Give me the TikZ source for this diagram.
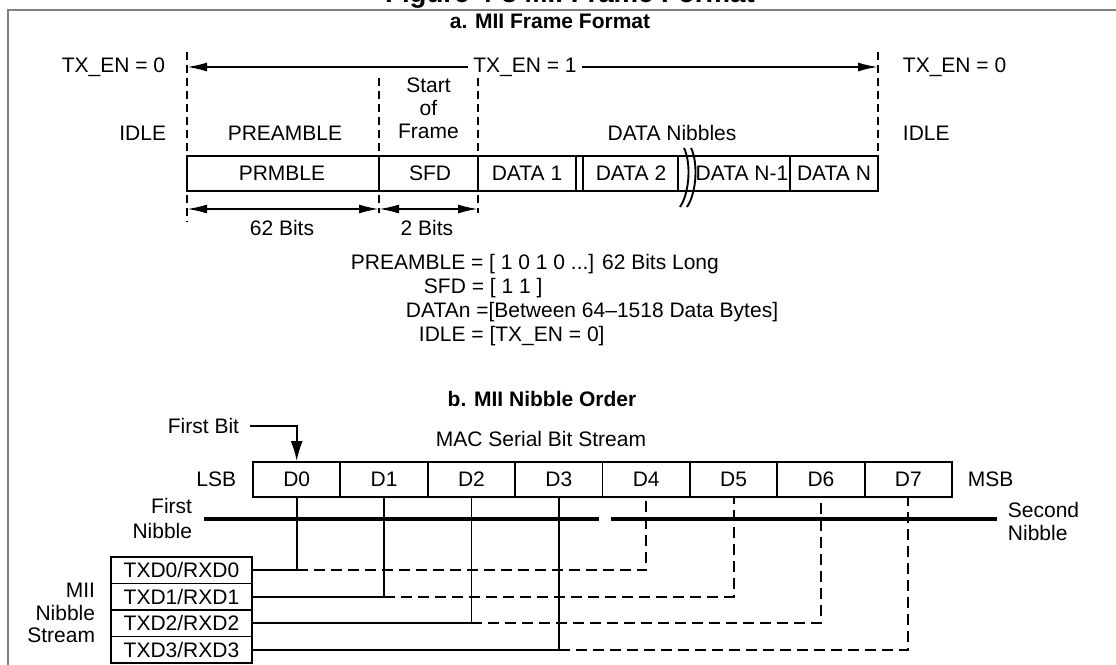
\documentclass[tikz,border=0pt]{standalone}
\usepackage{fontspec}
\setmainfont{Liberation Sans}
\usetikzlibrary{arrows.meta,positioning}
\begin{document}
\begin{tikzpicture}[x=0.5pt,y=-0.5pt,line width=0.95pt,
    font=\fontsize{10.5}{12.5}\selectfont,
    >={Latex[length=10pt,width=4.5pt]},
    guide/.style={dash pattern=on 4pt off 2.5pt},
    later/.style={dash pattern=on 5.5pt off 3pt},
    nibble/.style={line width=2.4pt},
    bitcell/.style={draw,minimum width=43.69pt,minimum height=17.5pt,inner sep=0pt},
    pincell/.style={draw,minimum width=70.5pt,minimum height=13.25pt,inner sep=0pt},
    heading/.style={font=\fontsize{10.5}{12.5}\selectfont\bfseries}]
    \useasboundingbox (0,0) rectangle (1116,665);
    \clip (0,0) rectangle (1116,665);
    \draw[gray,line width=1pt] (7.7,665) -- (7.7,10.3) -- (1116,10.3);
    \node[font=\fontsize{13.8}{16}\selectfont\bfseries,anchor=base] (fig) at (570,2) {Figure 4-3 MII Frame Format};
    \node[heading,anchor=base] (ta) at (550,28) {a. MII Frame Format};
    \coordinate (gL) at (187,67);
    \coordinate (gR) at (878,67);
    \draw[guide] (187,52) -- (187,222);
    \draw[guide] (379,78) -- (379,213);
    \draw[guide] (478,78) -- (478,213);
    \draw[guide] (878,52) -- (878,156);
    \node[anchor=base east,inner sep=0pt] (off1) at (166,72) {TX\_EN = 0};
    \node[anchor=base,inner sep=2pt] (on) at (525,72) {TX\_EN = 1};
    \node[anchor=base west,inner sep=0pt] (off2) at (902,72) {TX\_EN = 0};
    \draw[->] (on.west |- gL) -- (gL);
    \draw[->] (on.east |- gL) -- (gR);
    \node[align=center,inner sep=0pt,font=\fontsize{10.5}{11.5}\selectfont] (sof) at (428.5,108.5) {Start\\of\\Frame};
    \node[anchor=base east,inner sep=0pt] (idle1) at (167,140) {IDLE};
    \node[anchor=base,inner sep=0pt] (pre) at (285,140) {PREAMBLE};
    \node[anchor=base,inner sep=0pt] (nib) at (672,140) {DATA Nibbles};
    \node[anchor=base west,inner sep=0pt] (idle2) at (902,140) {IDLE};
    \draw (187,156) rectangle (878,191);
    \foreach \x in {379,478,576,583,678,790}
        \draw (\x,156) -- (\x,191);
    \draw (684,148) .. controls (691,162) and (690,192) .. (680,207);
    \draw (691,148) .. controls (698,162) and (697,192) .. (687,207);
    \foreach \t/\x [count=\k] in {PRMBLE/282,SFD/430,DATA 1/527,DATA 2/631,DATA N-1/742,DATA N/834}
        \node (f\k) at (\x,173.5) {\t};
    \draw[<->] (187,209) -- (379,209);
    \draw[<->] (379,209) -- (478,209);
    \node (b62) at (282,228) {62 Bits};
    \node (b2) at (427,228) {2 Bits};
    \node[anchor=base west,inner sep=0pt] (eq1) at (350,269) {PREAMBLE = [ 1 0 1 0 ...] 62 Bits Long};
    \node[anchor=base west,inner sep=0pt] (eq2) at (423,293) {SFD = [ 1 1 ]};
    \node[anchor=base west,inner sep=0pt] (eq3) at (405,317) {DATAn =[Between 64--1518 Data Bytes]};
    \node[anchor=base west,inner sep=0pt] (eq4) at (418,341) {IDLE = [TX\_EN = 0]};
    \node[heading,anchor=base] (tb) at (542,406) {b. MII Nibble Order};
    \node[anchor=base] (mac) at (541,446) {MAC Serial Bit Stream};
    \foreach \i in {0,...,7}
        \node[bitcell] (d\i) at ({296.7+87.375*\i},479.5) {D\i};
    \node[left=7.5pt of d0,inner sep=0pt] (lsb) {LSB};
    \node[right=7pt of d7,inner sep=0pt] (msb) {MSB};
    \node[anchor=east,inner sep=5pt] (fbit) at (250,426) {First Bit};
    \draw[-{Latex[length=10pt,width=6pt]}] (fbit.east) -| (d0.north);
    \node[align=right,anchor=east,inner sep=0pt] (first) at (193,518) {First\\Nibble};
    \node[align=left,anchor=west,inner sep=0pt,font=\fontsize{10.5}{11.5}\selectfont] (second) at (1007,521) {Second\\Nibble};
    \draw[nibble] (204,519) -- (599,519);
    \draw[nibble] (611,519) -- (997,519);
    \foreach \i in {0,...,3}
        \node[pincell] (p\i) at (181.5,{570.25+26.5*\i}) {TXD\i/RXD\i};
    \node[align=right,anchor=east,inner sep=0pt,font=\fontsize{10.5}{11.25}\selectfont] (mii) at (96,613) {MII\\Nibble\\Stream};
    \foreach \i [count=\j from 4] in {0,...,3} {
        \draw (p\i.east) -| (d\i.south);
        \draw[later] (d\i.south |- p\i.east) -| (d\j.south);
    }
\end{tikzpicture}
\end{document}
